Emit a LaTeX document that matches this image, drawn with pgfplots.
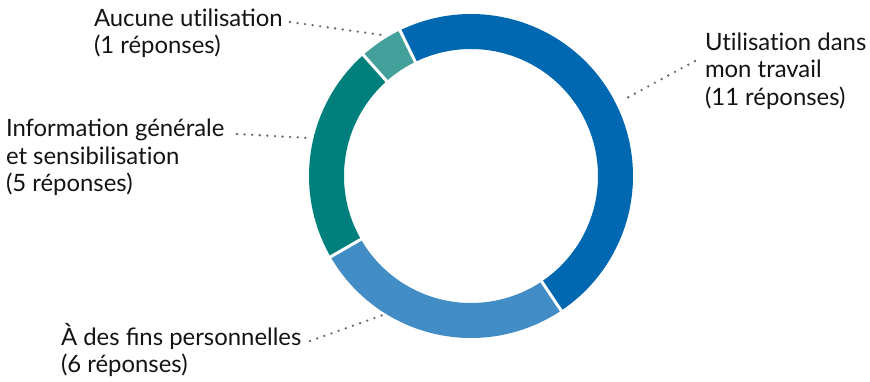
\documentclass[border=0pt]{standalone}
\usepackage{fontspec}
\setmainfont{Lato}
\usepackage{pgfplots}
\usepackage{pgfplotstable}
\pgfplotsset{compat=1.18}
\definecolor{cWork}{HTML}{0068B1}
\definecolor{cPerso}{HTML}{428DC5}
\definecolor{cInfo}{HTML}{00807D}
\definecolor{cNone}{HTML}{44A09B}
\definecolor{txt}{HTML}{141414}
\definecolor{lead}{HTML}{6A6A6A}
\tikzset{lbl/.style={inner sep=0pt, outer sep=0pt, text=txt, anchor=base west, font=\fontsize{23.9}{28}\selectfont}}
\newcommand\nl{\kern0pt }
\pgfplotstableread{
cat count
work 11
personal 6
info 5
none 1
}\donutdata
\begin{document}
\pgfplotstablegetelem{0}{count}\of\donutdata\edef\cA{\pgfplotsretval}%
\pgfplotstablegetelem{1}{count}\of\donutdata\edef\cB{\pgfplotsretval}%
\pgfplotstablegetelem{2}{count}\of\donutdata\edef\cC{\pgfplotsretval}%
\pgfplotstablegetelem{3}{count}\of\donutdata\edef\cD{\pgfplotsretval}%
\pgfmathsetmacro\tot{\cA+\cB+\cC+\cD}%
\pgfmathsetmacro\aZero{116}%
\pgfmathsetmacro\aOne{\aZero-360*\cA/\tot}%
\pgfmathsetmacro\aTwo{\aOne-360*\cB/\tot}%
\pgfmathsetmacro\aThree{\aTwo-360*\cC/\tot}%
\pgfmathsetmacro\aFour{\aThree-360*\cD/\tot}%
\begin{tikzpicture}
\begin{axis}[x=1pt, y=1pt, xmin=0, xmax=870, ymin=0, ymax=381, y dir=reverse,
  hide axis, clip=false, scale only axis]
% ring slices
\addplot[cWork, line width=35pt, domain=\aOne:\aZero, samples=150] ({471+144.5*cos(x)},{176-144.5*sin(x)});
\addplot[cPerso, line width=35pt, domain=\aTwo:\aOne, samples=100] ({471+144.5*cos(x)},{176-144.5*sin(x)});
\addplot[cInfo, line width=35pt, domain=\aThree:\aTwo, samples=100] ({471+144.5*cos(x)},{176-144.5*sin(x)});
\addplot[cNone, line width=35pt, domain=\aFour:\aThree, samples=30] ({471+144.5*cos(x)},{176-144.5*sin(x)});
% separators
\addplot[white, line width=3pt, domain=124:166, samples=2] ({471+x*cos(\aZero)},{176-x*sin(\aZero)});
\addplot[white, line width=3pt, domain=124:166, samples=2] ({471+x*cos(\aOne)},{176-x*sin(\aOne)});
\addplot[white, line width=3pt, domain=124:166, samples=2] ({471+x*cos(\aTwo)},{176-x*sin(\aTwo)});
\addplot[white, line width=3pt, domain=124:166, samples=2] ({471+x*cos(\aThree)},{176-x*sin(\aThree)});
% leader lines
\addplot[lead, line width=2.6pt, dash pattern=on 0pt off 7.6pt, line cap=round] coordinates {(290,22) (382,35)};
\addplot[lead, line width=2.6pt, dash pattern=on 0pt off 7.6pt, line cap=round] coordinates {(237,134) (309,138)};
\addplot[lead, line width=2.6pt, dash pattern=on 0pt off 7.6pt, line cap=round] coordinates {(310,341) (383,315)};
\addplot[lead, line width=2.6pt, dash pattern=on 0pt off 7.6pt, line cap=round] coordinates {(695,61) (625,99)};
% labels
\node[lbl] at (axis cs:94,26) {Aucune ut\nl ilisation};
\node[lbl] at (axis cs:94,53.5) {(1 réponses)};
\node[lbl] at (axis cs:6,136.7) {Information générale};
\node[lbl] at (axis cs:6,164.2) {et sensibilisat\nl ion};
\node[lbl] at (axis cs:6,191.7) {(5 réponses)};
\node[lbl] at (axis cs:61,345) {À des fins personnelles};
\node[lbl] at (axis cs:61,372.3) {(6 réponses)};
\node[lbl] at (axis cs:705,50) {Ut\nl ilisat\nl ion dans};
\node[lbl] at (axis cs:705,77.5) {mon travail};
\node[lbl] at (axis cs:705,105) {(11 réponses)};
\end{axis}
\useasboundingbox (0,0) rectangle (870pt,381pt);
\end{tikzpicture}
\end{document}
